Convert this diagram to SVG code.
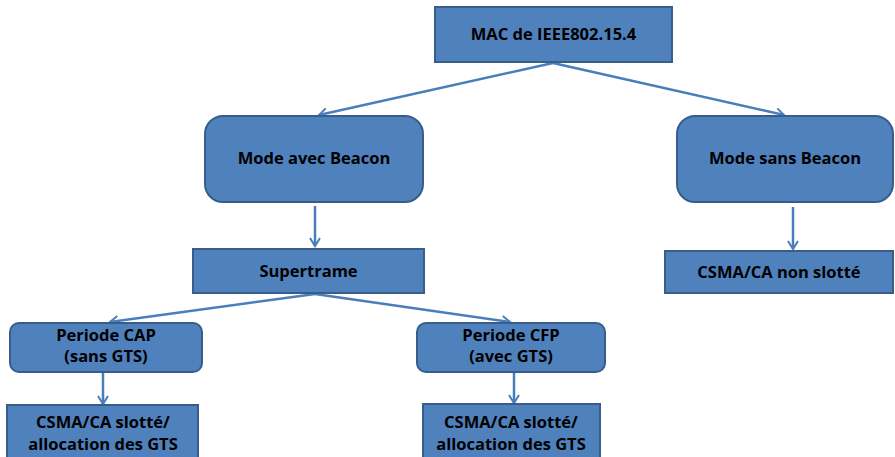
<svg xmlns="http://www.w3.org/2000/svg" width="895" height="457" viewBox="0 0 895 457">
<style>
.box{fill:#4F81BD;stroke:#385D8A;stroke-width:2}
.t{font-family:"Open Sans","Liberation Sans",Arial,sans-serif;font-weight:bold;font-size:16.5px;fill:#000;text-anchor:middle}
.c{stroke:#4A7EBB;stroke-width:2.5;fill:none;marker-end:url(#a)}
</style>
<defs>
<marker id="a" markerWidth="12" markerHeight="12" refX="9" refY="6" orient="auto" markerUnits="userSpaceOnUse">
<path d="M1,1 L9,6 L1,11" fill="none" stroke="#4A7EBB" stroke-width="2"/>
</marker>
</defs>
<g id="connectors">
<line class="c" x1="553" y1="63" x2="319" y2="115"/>
<line class="c" x1="553" y1="63" x2="784" y2="115"/>
<line class="c" x1="315" y1="206" x2="315" y2="246"/>
<line class="c" x1="793" y1="207" x2="793" y2="249"/>
<line class="c" x1="315" y1="294" x2="110" y2="322"/>
<line class="c" x1="315" y1="294" x2="510" y2="322"/>
<line class="c" x1="103" y1="373" x2="103" y2="404"/>
<line class="c" x1="514" y1="373" x2="514" y2="403"/>
</g>
<g id="mac">
<rect class="box" x="435" y="7" width="237" height="55"/>
<text class="t" x="553.5" y="40">MAC de IEEE802.15.4</text>
</g>
<g id="avec">
<rect class="box" x="205" y="116" width="218" height="86" rx="18"/>
<text class="t" x="314" y="164">Mode avec Beacon</text>
</g>
<g id="sans">
<rect class="box" x="677" y="116" width="216" height="86" rx="18"/>
<text class="t" x="785" y="164">Mode sans Beacon</text>
</g>
<g id="supertrame">
<rect class="box" x="193" y="249" width="231" height="44"/>
<text class="t" x="308.5" y="277">Supertrame</text>
</g>
<g id="nonslotte">
<rect class="box" x="665" y="251" width="228" height="42"/>
<text class="t" x="779" y="278">CSMA/CA non slotté</text>
</g>
<g id="cap">
<rect class="box" x="10" y="323" width="192" height="49" rx="9"/>
<text class="t" x="106" y="341">Periode CAP</text>
<text class="t" x="106" y="362">(sans GTS)</text>
</g>
<g id="cfp">
<rect class="box" x="417" y="323" width="188" height="49" rx="9"/>
<text class="t" x="511" y="341">Periode CFP</text>
<text class="t" x="511" y="362">(avec GTS)</text>
</g>
<g id="slotte1">
<rect class="box" x="7" y="405" width="191" height="60"/>
<text class="t" x="103" y="428">CSMA/CA slotté/</text>
<text class="t" x="103" y="450">allocation des GTS</text>
</g>
<g id="slotte2">
<rect class="box" x="423" y="404" width="177" height="60"/>
<text class="t" x="511" y="428">CSMA/CA slotté/</text>
<text class="t" x="511" y="450">allocation des GTS</text>
</g>
</svg>
